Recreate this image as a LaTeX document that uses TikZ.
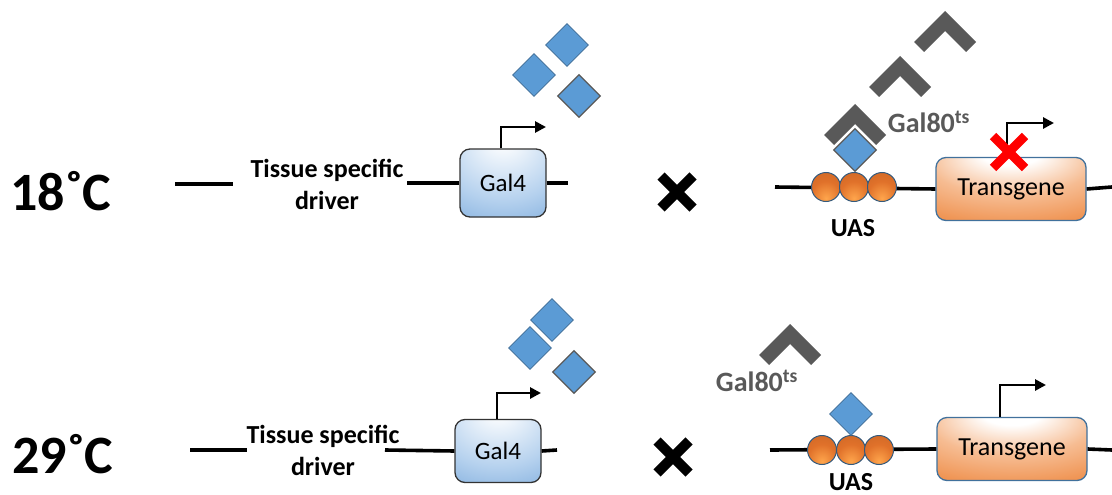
\documentclass[tikz,border=0pt]{standalone}
\usepackage{fontspec}
\setmainfont{Carlito}
\usetikzlibrary{shapes.geometric,arrows.meta,calc}
\definecolor{dblue}{HTML}{5B9BD5}
\definecolor{gbar}{HTML}{595959}
\definecolor{borange}{HTML}{E0712A}
\definecolor{bord}{HTML}{41719C}
\definecolor{tgedge}{HTML}{EE8B45}
\definecolor{tgmid}{HTML}{F6BC92}
\definecolor{gfedge}{HTML}{6A9FD6}
\definecolor{gfmid}{HTML}{B5D1EE}
\pgfdeclareradialshading{tgglow}{\pgfpoint{0bp}{32bp}}{color(0bp)=(white); color(10bp)=(white); color(28bp)=(tgmid); color(50bp)=(tgedge); color(100bp)=(tgedge)}
\pgfdeclareradialshading{gfglow}{\pgfpoint{0bp}{34bp}}{color(0bp)=(white); color(6bp)=(white!90!gfmid); color(35bp)=(gfmid); color(65bp)=(gfedge); color(100bp)=(gfedge)}
\pgfdeclareradialshading{ballglow}{\pgfpoint{0bp}{-20bp}}{color(0bp)=(orange!70!white); color(25bp)=(borange); color(60bp)=(borange!85!black); color(100bp)=(borange!85!black)}
\newcommand\galchev[2]{\fill[gbar] (#1,#2) -- ++(31,31) -- ++(-10,10) -- ++(-21,-21) -- ++(-21,21) -- ++(-10,-10) -- cycle;}
\tikzset{
  dna/.style={line width=3.6pt},
  gfourbox/.style={draw=black!80, line width=1.3pt, rounded corners=10pt, minimum width=86pt, minimum height=68pt, shading=gfglow, font=\fontsize{25}{28}\selectfont},
  tgbox/.style={draw=bord, line width=1.3pt, rounded corners=10pt, minimum width=150pt, minimum height=63pt, shading=tgglow, font=\fontsize{26}{29}\selectfont},
  prom/.style={line width=2.8pt, -{Triangle[length=11pt,width=11pt]}},
  dmd/.style={diamond, fill=dblue, draw=dblue!70!black, line width=0.6pt, inner sep=0pt, minimum size=43pt},
  dmdg/.style={dmd, draw=gbar, line width=1.2pt},
  uasball/.style={circle, shading=ballglow, draw=bord!80!black, line width=1pt, inner sep=0pt, minimum size=29pt},
  temp/.style={font=\fontsize{54}{58}\selectfont\bfseries},
  lbl/.style={font=\fontsize{26}{32}\selectfont\bfseries, align=center},
  uaslbl/.style={font=\fontsize{26}{29}\selectfont\bfseries},
  gallbl/.style={font=\fontsize{28}{30}\selectfont\bfseries, text=gbar},
  bx/.style={line width=10pt},
  rx/.style={line width=9pt, red},
}
\begin{document}
\begin{tikzpicture}[x=1pt,y=-1pt]
\useasboundingbox (0,0) rectangle (1112,495);
% ================= top row (18 C) =================
\node[temp] (t18) at (61,191) {18˚C};
\coordinate (a1) at (175,184);
\coordinate (a2) at (233,184);
\draw[dna] (a1) -- (a2);
\node[lbl] (tsd1) at (327,184) {Tissue specific\\driver};
\node[gfourbox] (g4a) at (503,183) {Gal4};
\coordinate (a3) at (407,183);
\coordinate (a4) at (568,183);
\draw[dna] (a3) -- (g4a.west);
\draw[dna] (g4a.east) -- (a4);
\coordinate (pa) at (546,127);
\draw[prom] (g4a.north -| 501,0) |- (pa);
\node[dmd] (d1) at (567,45) {};
\node[dmd] (d2) at (534,75) {};
\node[dmdg] (d3) at (579,96) {};
% cross
\coordinate (xa) at (677,192);
\draw[bx] ($(xa)+(-16,-16)$) -- ($(xa)+(16,16)$);
\draw[bx] ($(xa)+(-16,16)$) -- ($(xa)+(16,-16)$);
% right construct
\coordinate (b1) at (775,187);
\coordinate (b2) at (1112,187);
\node[tgbox] (tga) at (1011,189) {Transgene};
\draw[dna] (b1) -- (tga.west);
\draw[dna] (tga.east) -- (b2);
\galchev{900}{56}
\galchev{945}{11}
\galchev{855}{104}
\node[uasball] (u1) at (826,187) {};
\node[uasball] (u2) at (854,187) {};
\node[uasball] (u3) at (882,187) {};
\node[dmdg] (d4) at (855,150) {};
\node[uaslbl] (uasa) at (853,228) {UAS};
\node[gallbl] (g80a) at (929,122) {Gal80\textsuperscript{ts}};
\coordinate (pb) at (1054,123);
\draw[prom] (tga.north -| 1007,0) |- (pb);
\coordinate (xr) at (1009,152);
\draw[rx] ($(xr)+(-16,-16)$) -- ($(xr)+(16,16)$);
\draw[rx] ($(xr)+(-16,16)$) -- ($(xr)+(16,-16)$);
% ================= bottom row (29 C) =================
\node[temp] (t29) at (63,454) {29˚C};
\coordinate (c1) at (190,450);
\coordinate (c2) at (247,450);
\draw[dna] (c1) -- (c2);
\node[lbl] (tsd2) at (323,450) {Tissue specific\\driver};
\node[gfourbox, minimum height=63pt] (g4b) at (498,451) {Gal4};
\coordinate (c3) at (385,450);
\coordinate (c4) at (557,450);
\draw[dna] (c3) -- (g4b.west);
\draw[dna] (g4b.east) -- (c4);
\coordinate (pc) at (541,393);
\draw[prom] (g4b.north -| 497,0) |- (pc);
\node[dmd] (d5) at (552,320) {};
\node[dmd] (d6) at (530,348) {};
\node[dmdg] (d7) at (574,372) {};
\coordinate (xb) at (673,457);
\draw[bx] ($(xb)+(-16,-16)$) -- ($(xb)+(16,16)$);
\draw[bx] ($(xb)+(-16,16)$) -- ($(xb)+(16,-16)$);
\coordinate (e1) at (770,450);
\coordinate (e2) at (1112,450);
\node[tgbox] (tgb) at (1012,449) {Transgene};
\draw[dna] (e1) -- (tgb.west);
\draw[dna] (tgb.east) -- (e2);
\galchev{790}{324}
\node[gallbl] (g80b) at (757,381) {Gal80\textsuperscript{ts}};
\node[uasball] (u4) at (822,450) {};
\node[uasball] (u5) at (851,450) {};
\node[uasball] (u6) at (879,450) {};
\node[dmd] (d8) at (851,414) {};
\node[uaslbl] (uasb) at (851,482) {UAS};
\coordinate (pd) at (1046,385);
\draw[prom] (tgb.north -| 1000,0) |- (pd);
\end{tikzpicture}
\end{document}
